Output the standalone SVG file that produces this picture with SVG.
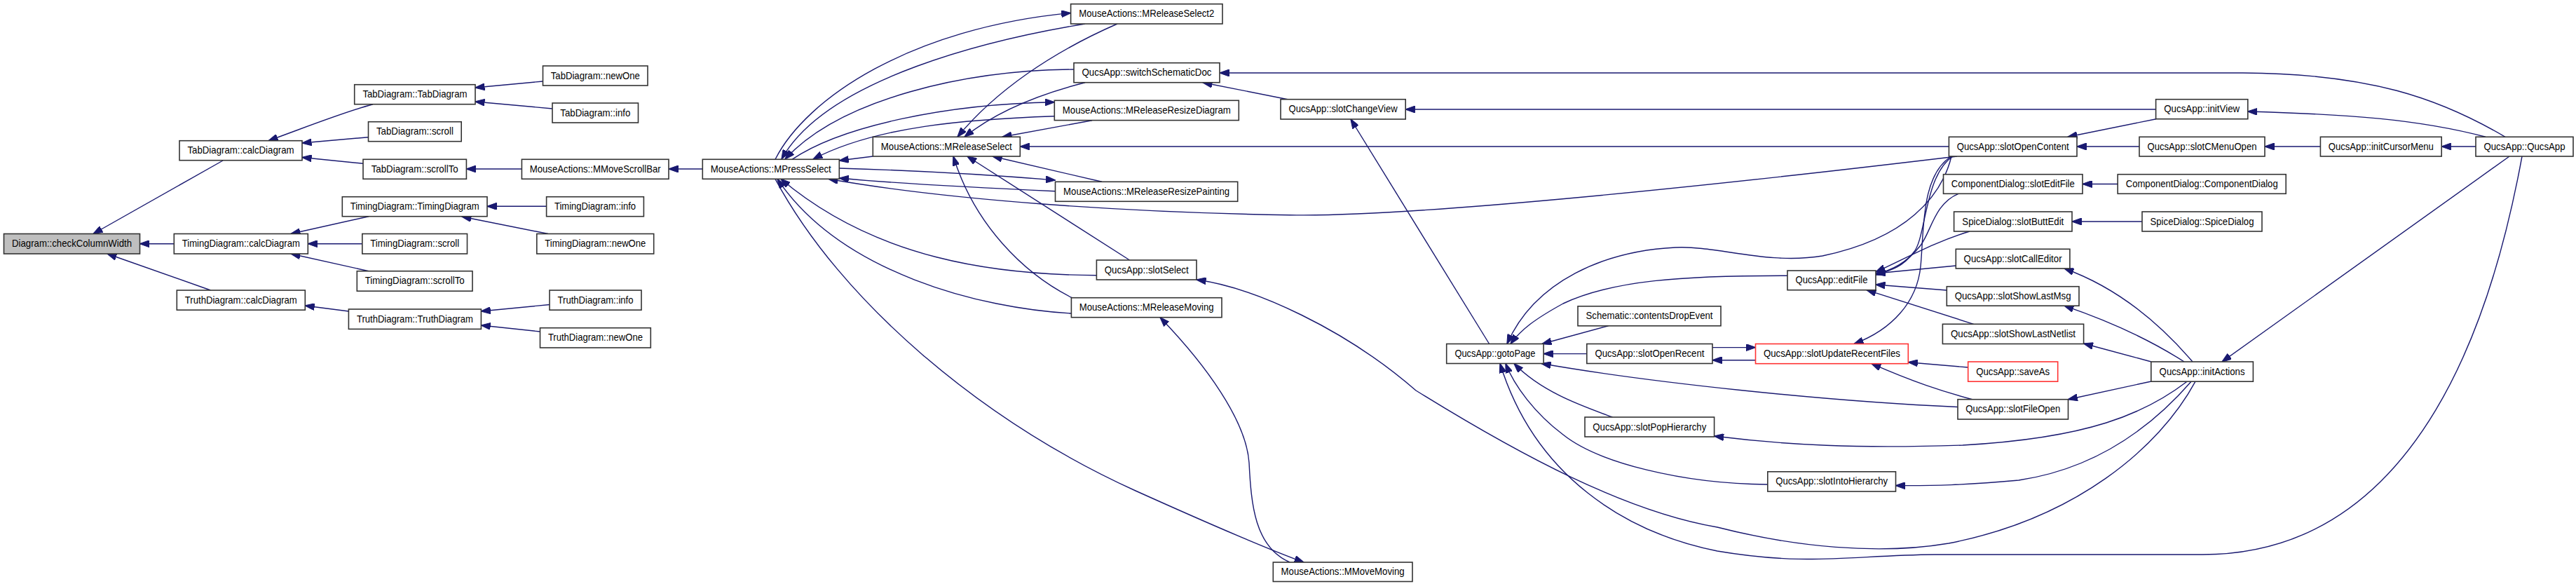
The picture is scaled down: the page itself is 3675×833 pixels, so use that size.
<svg xmlns="http://www.w3.org/2000/svg" width="3675" height="833" viewBox="0 0 3675 833">
<style>
.n rect{fill:#ffffff;stroke:#333333;stroke-width:1.6}
.n.root rect{fill:#bfbfbf}
.n.red rect{stroke:#ff3333}
.n text{font-family:"Liberation Sans",Arial,sans-serif;font-size:15px;text-anchor:middle;fill:#000000}
.e path{fill:none;stroke:#191970;stroke-width:1.4;marker-end:url(#ah)}
</style>
<defs>
<marker id="ah" viewBox="0 0 14 10" refX="13.5" refY="5" markerWidth="14" markerHeight="10" markerUnits="userSpaceOnUse" orient="auto">
<path d="M0,0 L14,5 L0,10 z" fill="#191970" stroke="#191970" stroke-width="1"/>
</marker>
</defs>
<rect x="0" y="0" width="3675" height="833" fill="#ffffff"/>
<g id="edges" class="e">
<path d="M318,229 L133,333.5"/>
<path d="M248.3,347.7 L199.5,347.7"/>
<path d="M300.5,414 L153,362"/>
<path d="M532,148.7 C490,160 440,180 383,200.7"/>
<path d="M525.5,195.7 L431,204"/>
<path d="M518,233.3 L431,224.5"/>
<path d="M526,308.7 L415,333.5"/>
<path d="M516.8,347.7 L439.3,347.7"/>
<path d="M526,386.7 L415,362"/>
<path d="M497.4,444 L435.3,436"/>
<path d="M774.5,116 L678,125"/>
<path d="M788,155 L678,145"/>
<path d="M744.4,241 L665.4,241"/>
<path d="M1002.3,241 L954,241"/>
<path d="M779.6,294.3 L695,294.3"/>
<path d="M782,333.5 L659,309"/>
<path d="M784,434.5 L686.3,444"/>
<path d="M770.5,473 L686.3,464"/>
<path d="M1106,227.3 C1150,140 1300,40 1527.6,18.5"/>
<path d="M1548,34 C1420,55 1180,110 1115,227"/>
<path d="M1532,99 C1380,100 1200,140 1120,227"/>
<path d="M1130,227.3 C1200,180 1350,148 1504.3,145.7"/>
<path d="M1504.3,165.7 C1380,170 1250,180 1160,227"/>
<path d="M1245.3,223 L1197.3,229"/>
<path d="M1197.3,240 C1300,243 1420,250 1505.5,257"/>
<path d="M1505.5,272.7 C1400,268 1280,262 1197.3,254"/>
<path d="M2792,223 C2400,270 2000,310 1840,306.7 C1600,303 1350,285 1182,255.3"/>
<path d="M1564.4,392.7 C1420,392 1250,370 1114,255.3"/>
<path d="M1528.4,447 C1400,440 1200,390 1109,255.3"/>
<path d="M1106,255.3 C1200,430 1400,600 1620,700 C1720,745 1800,780 1860,802"/>
<path d="M1840,802 C1790,780 1785,720 1782,660 C1778,600 1720,520 1655,452.7"/>
<path d="M1594,34 C1500,75 1420,130 1366,195.3"/>
<path d="M1548,117.7 C1480,135 1420,160 1376,195.3"/>
<path d="M1558,171.7 L1430,195.3"/>
<path d="M2780.4,209 L1455.3,209"/>
<path d="M1572,259.3 L1416,223"/>
<path d="M1611.5,371 L1380,223"/>
<path d="M1530,425 C1460,390 1390,320 1360,223"/>
<path d="M3574,195.3 C3480,140 3380,105 3200,104 L1740,104"/>
<path d="M1837,141.7 L1716,117.7"/>
<path d="M3075.6,156 L2005.2,156"/>
<path d="M2124.6,490.5 L1927,170"/>
<path d="M3546,195.3 C3450,170 3350,163 3206.8,159"/>
<path d="M3076,169.7 L2950,195.3"/>
<path d="M3052,209 L2963,209"/>
<path d="M3310.4,209 L3231,209"/>
<path d="M3532,209 L3483.2,209"/>
<path d="M3021.2,262.5 L2971,262.5"/>
<path d="M3056,316 L2956,316"/>
<path d="M3580,223 L3170,516"/>
<path d="M3598,223 C3560,430 3460,791 3142,791 L2760,791 C2640,792 2580,808 2450,786 C2320,760 2190,680 2140,518.5"/>
<path d="M3132,544.2 C3080,640 2960,740 2780,775 C2680,792 2560,780 2450,752 C2320,730 2170,650 2020,557 C1920,470 1790,410 1707,399"/>
<path d="M3126,544.2 C3060,620 2980,670 2880,685 C2800,692 2760,693 2704.5,692.6"/>
<path d="M3120,544.2 C3060,590 2980,625 2800,635 C2650,640 2550,635 2445.6,622"/>
<path d="M3069,544 L2950.5,569.7"/>
<path d="M3069,516 L2972.6,490"/>
<path d="M3116,516 C3060,480 3000,455 2945,436.2"/>
<path d="M3128,516 C3080,460 3020,410 2945,383"/>
<path d="M2786,223 C2745,250 2748,340 2730,360 C2715,380 2700,385 2676,392"/>
<path d="M2794,276.3 C2760,290 2755,330 2740,350 C2720,375 2700,385 2676,391"/>
<path d="M2810,330 C2760,345 2720,368 2676,388"/>
<path d="M2790.3,379 L2676,390"/>
<path d="M2777.3,414 L2676,406"/>
<path d="M2815.6,462.3 L2663,413.7"/>
<path d="M2784,223 C2740,250 2745,330 2740,380 C2735,430 2700,470 2645,490.5"/>
<path d="M2443,495.6 L2504.5,495.6"/>
<path d="M2504.5,513.7 L2443,513.7"/>
<path d="M2807.7,524 L2722.3,516.7"/>
<path d="M2813.7,569.7 C2770,558 2730,545 2670,518.7"/>
<path d="M2550,393.3 C2400,393 2300,400 2230,433 C2190,455 2170,470 2155,490.5"/>
<path d="M2784,223 C2770,280 2720,340 2600,365 C2520,378 2450,350 2390,353 C2290,358 2190,400 2150,490.5"/>
<path d="M2294.6,464.8 L2200,490.5"/>
<path d="M2263.8,504.6 L2202.1,504.6"/>
<path d="M2793,580.5 C2600,572 2350,545 2199,518.5"/>
<path d="M2300.5,595 C2260,580 2200,560 2160,518.5"/>
<path d="M2521.8,691 C2400,690 2280,660 2230,620 C2190,590 2160,550 2148,518.5"/>
</g>
<g id="n_checkColumnWidth" class="n root"><rect x="5.5" y="333.5" width="194" height="28.5"/><text x="102.5" y="352.2" textLength="171" lengthAdjust="spacingAndGlyphs">Diagram::checkColumnWidth</text></g>
<g id="n_tab_calc" class="n"><rect x="256" y="200.7" width="175" height="28"/><text x="343.5" y="219.2" textLength="152" lengthAdjust="spacingAndGlyphs">TabDiagram::calcDiagram</text></g>
<g id="n_timing_calc" class="n"><rect x="248.3" y="333.5" width="191" height="28.5"/><text x="343.8" y="352.2" textLength="168" lengthAdjust="spacingAndGlyphs">TimingDiagram::calcDiagram</text></g>
<g id="n_truth_calc" class="n"><rect x="252.3" y="414" width="183" height="28.2"/><text x="343.8" y="432.6" textLength="160" lengthAdjust="spacingAndGlyphs">TruthDiagram::calcDiagram</text></g>
<g id="n_tab_ctor" class="n"><rect x="505.7" y="120.7" width="172.3" height="28"/><text x="591.9" y="139.2" textLength="149" lengthAdjust="spacingAndGlyphs">TabDiagram::TabDiagram</text></g>
<g id="n_tab_scroll" class="n"><rect x="525.5" y="173.7" width="132.7" height="28"/><text x="591.9" y="192.2" textLength="110" lengthAdjust="spacingAndGlyphs">TabDiagram::scroll</text></g>
<g id="n_tab_scrollTo" class="n"><rect x="518" y="227.3" width="147.4" height="28"/><text x="591.7" y="245.8" textLength="124" lengthAdjust="spacingAndGlyphs">TabDiagram::scrollTo</text></g>
<g id="n_timing_ctor" class="n"><rect x="488.3" y="280.7" width="206.7" height="28"/><text x="591.7" y="299.2" textLength="184" lengthAdjust="spacingAndGlyphs">TimingDiagram::TimingDiagram</text></g>
<g id="n_timing_scroll" class="n"><rect x="516.8" y="333.5" width="149.7" height="28.5"/><text x="591.7" y="352.2" textLength="127" lengthAdjust="spacingAndGlyphs">TimingDiagram::scroll</text></g>
<g id="n_timing_scrollTo" class="n"><rect x="509.3" y="386.7" width="164.7" height="28.5"/><text x="591.7" y="405.4" textLength="142" lengthAdjust="spacingAndGlyphs">TimingDiagram::scrollTo</text></g>
<g id="n_truth_ctor" class="n"><rect x="497.4" y="441" width="189" height="28.4"/><text x="591.9" y="459.7" textLength="166" lengthAdjust="spacingAndGlyphs">TruthDiagram::TruthDiagram</text></g>
<g id="n_tab_newOne" class="n"><rect x="774.5" y="94" width="149.5" height="28"/><text x="849.3" y="112.5" textLength="127" lengthAdjust="spacingAndGlyphs">TabDiagram::newOne</text></g>
<g id="n_tab_info" class="n"><rect x="788" y="147" width="122.5" height="28"/><text x="849.3" y="165.5" textLength="100" lengthAdjust="spacingAndGlyphs">TabDiagram::info</text></g>
<g id="n_mmovescrollbar" class="n"><rect x="744.4" y="227.3" width="209.6" height="28"/><text x="849.2" y="245.8" textLength="187" lengthAdjust="spacingAndGlyphs">MouseActions::MMoveScrollBar</text></g>
<g id="n_timing_info" class="n"><rect x="779.6" y="280.7" width="138.8" height="28"/><text x="849" y="299.2" textLength="116" lengthAdjust="spacingAndGlyphs">TimingDiagram::info</text></g>
<g id="n_timing_newOne" class="n"><rect x="765.8" y="333.5" width="166.9" height="28.5"/><text x="849.3" y="352.2" textLength="144" lengthAdjust="spacingAndGlyphs">TimingDiagram::newOne</text></g>
<g id="n_truth_info" class="n"><rect x="784" y="414" width="131" height="28.2"/><text x="849.5" y="432.6" textLength="108" lengthAdjust="spacingAndGlyphs">TruthDiagram::info</text></g>
<g id="n_truth_newOne" class="n"><rect x="770.5" y="467.7" width="157.8" height="28.3"/><text x="849.4" y="486.3" textLength="135" lengthAdjust="spacingAndGlyphs">TruthDiagram::newOne</text></g>
<g id="n_mpressselect" class="n"><rect x="1002.3" y="227.3" width="195" height="28"/><text x="1099.8" y="245.8" textLength="172" lengthAdjust="spacingAndGlyphs">MouseActions::MPressSelect</text></g>
<g id="n_mreleaseselect" class="n"><rect x="1245.3" y="195.3" width="210" height="27.7"/><text x="1350.3" y="213.7" textLength="187" lengthAdjust="spacingAndGlyphs">MouseActions::MReleaseSelect</text></g>
<g id="n_mreleaseselect2" class="n"><rect x="1527.6" y="5.7" width="216.4" height="28.3"/><text x="1635.8" y="24.3" textLength="193" lengthAdjust="spacingAndGlyphs">MouseActions::MReleaseSelect2</text></g>
<g id="n_switchschematicdoc" class="n"><rect x="1532" y="89.7" width="208" height="28"/><text x="1636" y="108.2" textLength="185" lengthAdjust="spacingAndGlyphs">QucsApp::switchSchematicDoc</text></g>
<g id="n_mreleaseresizediagram" class="n"><rect x="1504.3" y="143.3" width="263" height="28.3"/><text x="1635.8" y="162" textLength="240" lengthAdjust="spacingAndGlyphs">MouseActions::MReleaseResizeDiagram</text></g>
<g id="n_mreleaseresizepainting" class="n"><rect x="1505.5" y="259.3" width="260.2" height="28"/><text x="1635.6" y="277.8" textLength="237" lengthAdjust="spacingAndGlyphs">MouseActions::MReleaseResizePainting</text></g>
<g id="n_slotselect" class="n"><rect x="1564.4" y="371" width="142.6" height="28"/><text x="1635.7" y="389.5" textLength="120" lengthAdjust="spacingAndGlyphs">QucsApp::slotSelect</text></g>
<g id="n_mreleasemoving" class="n"><rect x="1528.4" y="424.7" width="214.6" height="28"/><text x="1635.7" y="443.2" textLength="192" lengthAdjust="spacingAndGlyphs">MouseActions::MReleaseMoving</text></g>
<g id="n_mmovemoving" class="n"><rect x="1816.3" y="802" width="198.7" height="27.5"/><text x="1915.6" y="820.3" textLength="176" lengthAdjust="spacingAndGlyphs">MouseActions::MMoveMoving</text></g>
<g id="n_slotchangeview" class="n"><rect x="1827" y="141.7" width="178.2" height="28.3"/><text x="1916.1" y="160.3" textLength="155" lengthAdjust="spacingAndGlyphs">QucsApp::slotChangeView</text></g>
<g id="n_gotopage" class="n"><rect x="2063.7" y="490.5" width="138.4" height="28"/><text x="2132.9" y="509" textLength="115" lengthAdjust="spacingAndGlyphs">QucsApp::gotoPage</text></g>
<g id="n_contentsdropevent" class="n"><rect x="2251" y="436.8" width="204" height="28"/><text x="2353" y="455.3" textLength="181" lengthAdjust="spacingAndGlyphs">Schematic::contentsDropEvent</text></g>
<g id="n_slotopenrecent" class="n"><rect x="2263.8" y="490.5" width="179.2" height="28"/><text x="2353.4" y="509" textLength="156" lengthAdjust="spacingAndGlyphs">QucsApp::slotOpenRecent</text></g>
<g id="n_slotpophierarchy" class="n"><rect x="2261" y="595" width="184.6" height="28"/><text x="2353.3" y="613.5" textLength="162" lengthAdjust="spacingAndGlyphs">QucsApp::slotPopHierarchy</text></g>
<g id="n_slotupdaterecentfiles" class="n red"><rect x="2504.5" y="490.5" width="217.8" height="28.2"/><text x="2613.4" y="509.1" textLength="195" lengthAdjust="spacingAndGlyphs">QucsApp::slotUpdateRecentFiles</text></g>
<g id="n_slotintohierarchy" class="n"><rect x="2521.8" y="672.8" width="182.7" height="28.2"/><text x="2613.2" y="691.4" textLength="160" lengthAdjust="spacingAndGlyphs">QucsApp::slotIntoHierarchy</text></g>
<g id="n_editfile" class="n"><rect x="2550" y="386" width="126" height="27.7"/><text x="2613" y="404.3" textLength="103" lengthAdjust="spacingAndGlyphs">QucsApp::editFile</text></g>
<g id="n_slotopencontent" class="n"><rect x="2780.4" y="195.3" width="182.6" height="27.7"/><text x="2871.7" y="213.7" textLength="160" lengthAdjust="spacingAndGlyphs">QucsApp::slotOpenContent</text></g>
<g id="n_cd_sloteditfile" class="n"><rect x="2772.5" y="248.7" width="198.5" height="27.6"/><text x="2871.75" y="267" textLength="176" lengthAdjust="spacingAndGlyphs">ComponentDialog::slotEditFile</text></g>
<g id="n_sd_slotbuttedit" class="n"><rect x="2787.6" y="302" width="168.4" height="28"/><text x="2871.8" y="320.5" textLength="145" lengthAdjust="spacingAndGlyphs">SpiceDialog::slotButtEdit</text></g>
<g id="n_slotcalleditor" class="n"><rect x="2790.3" y="355.3" width="162.6" height="27.7"/><text x="2871.6" y="373.6" textLength="140" lengthAdjust="spacingAndGlyphs">QucsApp::slotCallEditor</text></g>
<g id="n_slotshowlastmsg" class="n"><rect x="2777.3" y="408.7" width="188.7" height="27.5"/><text x="2871.65" y="427" textLength="166" lengthAdjust="spacingAndGlyphs">QucsApp::slotShowLastMsg</text></g>
<g id="n_slotshowlastnetlist" class="n"><rect x="2771.4" y="462.3" width="201.2" height="28.2"/><text x="2872" y="480.9" textLength="178" lengthAdjust="spacingAndGlyphs">QucsApp::slotShowLastNetlist</text></g>
<g id="n_saveas" class="n red"><rect x="2807.7" y="516" width="128" height="28.2"/><text x="2871.7" y="534.6" textLength="105" lengthAdjust="spacingAndGlyphs">QucsApp::saveAs</text></g>
<g id="n_slotfileopen" class="n"><rect x="2793" y="569.7" width="157.5" height="28.3"/><text x="2871.75" y="588.3" textLength="135" lengthAdjust="spacingAndGlyphs">QucsApp::slotFileOpen</text></g>
<g id="n_initview" class="n"><rect x="3075.6" y="141.7" width="131.2" height="28"/><text x="3141.2" y="160.2" textLength="108" lengthAdjust="spacingAndGlyphs">QucsApp::initView</text></g>
<g id="n_slotcmenuopen" class="n"><rect x="3052" y="195.3" width="179" height="27.7"/><text x="3141.5" y="213.7" textLength="156" lengthAdjust="spacingAndGlyphs">QucsApp::slotCMenuOpen</text></g>
<g id="n_cd_ctor" class="n"><rect x="3021.2" y="248.7" width="240" height="27.6"/><text x="3141.2" y="267" textLength="217" lengthAdjust="spacingAndGlyphs">ComponentDialog::ComponentDialog</text></g>
<g id="n_sd_ctor" class="n"><rect x="3056" y="302" width="171" height="28"/><text x="3141.5" y="320.5" textLength="148" lengthAdjust="spacingAndGlyphs">SpiceDialog::SpiceDialog</text></g>
<g id="n_initactions" class="n"><rect x="3068.8" y="516" width="145.6" height="28.2"/><text x="3141.6" y="534.6" textLength="122" lengthAdjust="spacingAndGlyphs">QucsApp::initActions</text></g>
<g id="n_initcursormenu" class="n"><rect x="3310.4" y="195.3" width="172.8" height="27.7"/><text x="3396.8" y="213.7" textLength="150" lengthAdjust="spacingAndGlyphs">QucsApp::initCursorMenu</text></g>
<g id="n_qucsapp" class="n"><rect x="3532" y="195.3" width="139" height="27.7"/><text x="3601.5" y="213.7" textLength="116" lengthAdjust="spacingAndGlyphs">QucsApp::QucsApp</text></g>
</svg>
